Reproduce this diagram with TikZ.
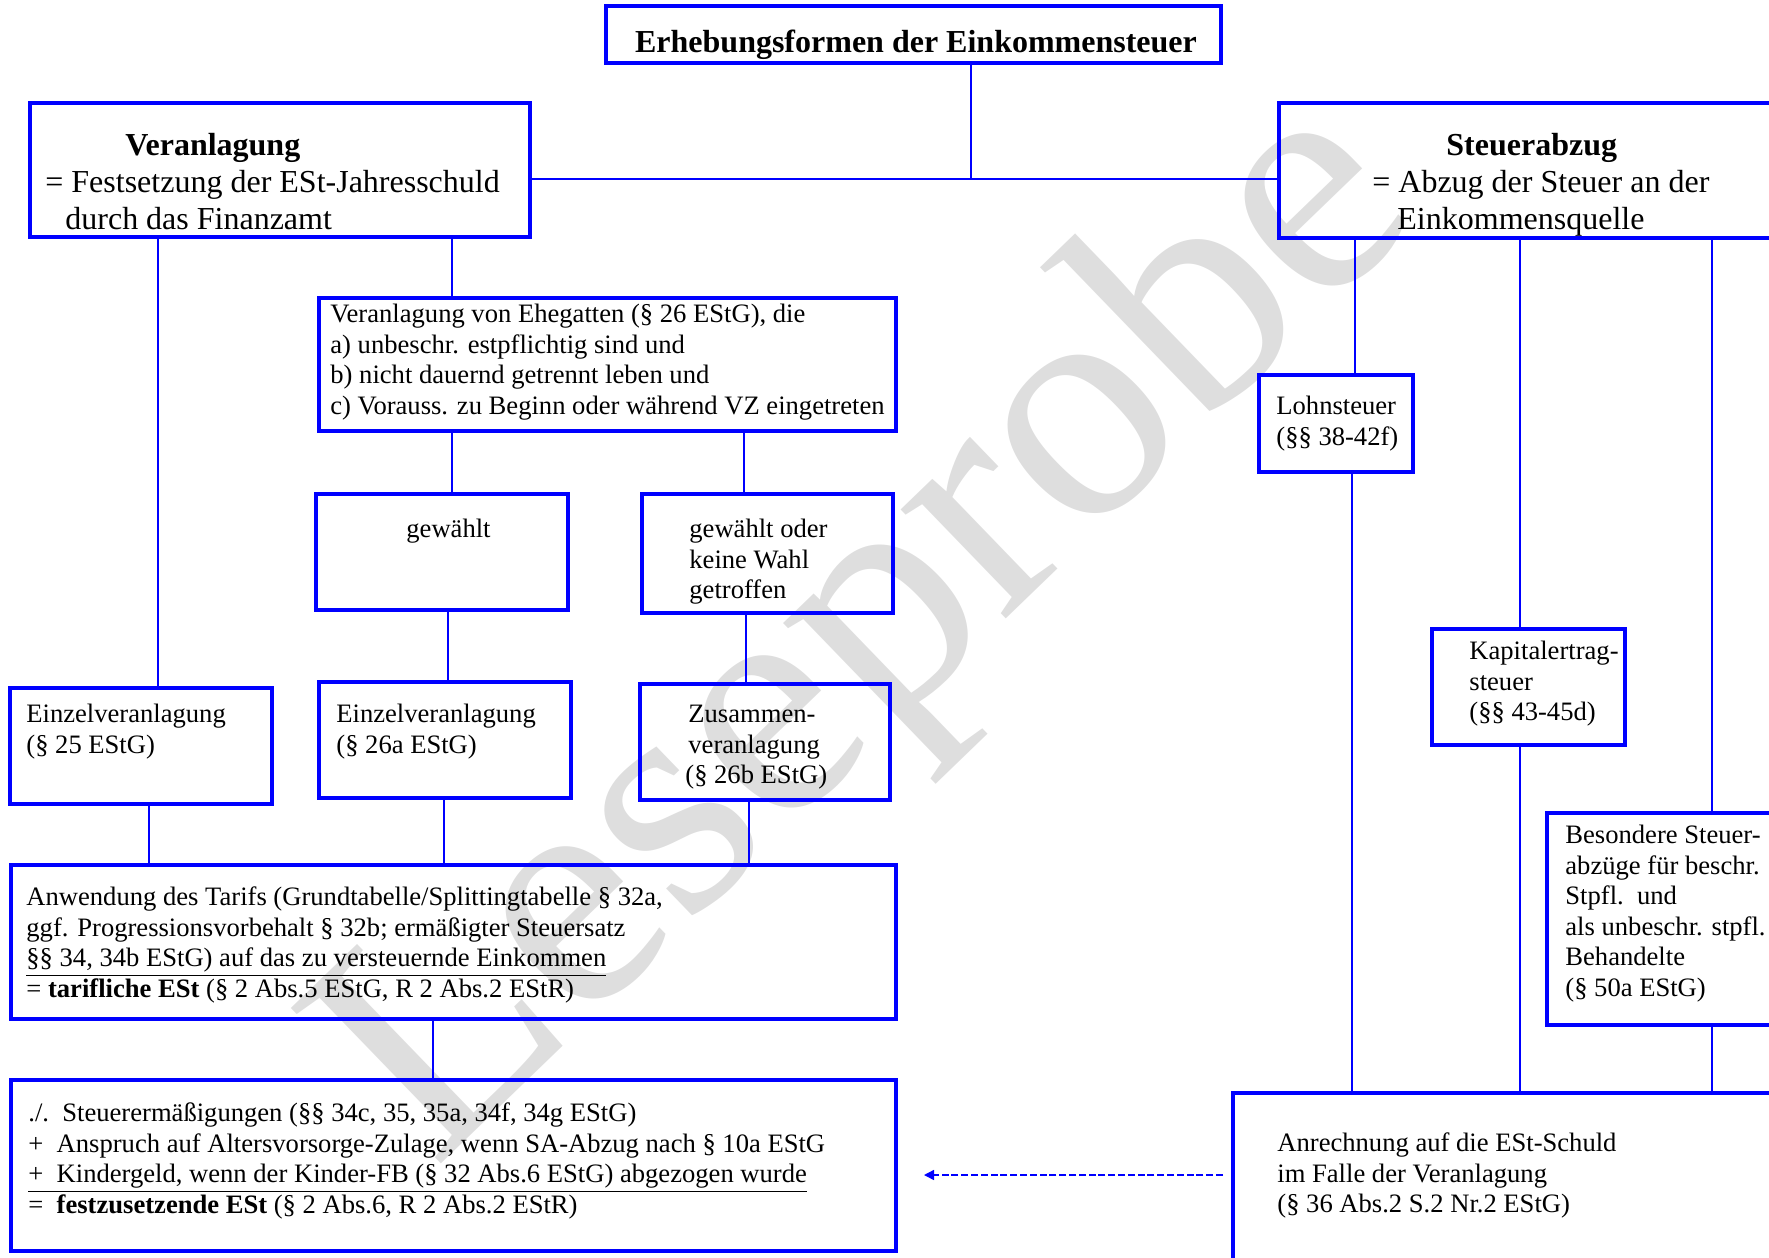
\documentclass[tikz,border=0pt]{standalone}
\usepackage{fontspec}
\setmainfont{Liberation Serif}
\usetikzlibrary{fit,arrows.meta}
\begin{document}
\begin{tikzpicture}[x=0.5pt,y=-0.5pt,
  box/.style={draw=blue, line width=1.6pt, inner sep=0pt, outer sep=0pt},
  conn/.style={draw=blue, line width=1.4pt},
  dasharrow/.style={draw=blue, line width=0.7pt, dash pattern=on 3.5pt off 1.4pt, -{Triangle[length=5pt,width=5pt]}},
  txt/.style={inner sep=0pt, anchor=north west, align=left, font=\fontsize{13.3}{15.3}\selectfont},
  bigtxt/.style={inner sep=0pt, anchor=north west, align=left, font=\fontsize{16}{18.5}\selectfont},
  wmark/.style={inner sep=0pt, text=black!13, font=\fontsize{165}{165}\selectfont}]
\useasboundingbox (0,0) rectangle (1769,1258);
\clip (0,0) rectangle (1769,1258);

% watermark
\node[wmark, rotate=44] (wm) at (874,636) {Leseprobe};

% boxes
\node[box, fit={(606,6) (1221,63)}] (title) {};
\node[box, fit={(30,103) (530,237)}] (veran) {};
\node[box, fit={(1279,103) (1795,238)}] (steu) {};
\node[box, fit={(319,298) (896,431)}] (ehe) {};
\node[box, fit={(316,494) (568,610)}] (gew) {};
\node[box, fit={(642,494) (893,613)}] (gwo) {};
\node[box, fit={(10,688) (272,804)}] (ein25) {};
\node[box, fit={(319,682) (571,798)}] (ein26) {};
\node[box, fit={(640,684) (890,800)}] (zus) {};
\node[box, fit={(11,865) (896,1019)}] (tarif) {};
\node[box, fit={(11,1080) (896,1251)}] (low) {};
\node[box, fit={(1259,375) (1413,472)}] (lohn) {};
\node[box, fit={(1432,629) (1625,745)}] (kap) {};
\node[box, fit={(1547,813) (1795,1025)}] (bes) {};
\node[box, fit={(1233,1093) (1795,1290)}] (anr) {};

% texts
\node[inner sep=0pt, anchor=base, font=\fontsize{16}{18.5}\selectfont\bfseries] (ttitle) at (916,52) {Erhebungsformen der Einkommensteuer};
\node[bigtxt] (tveran) at (45,129.1) {\strut\hspace*{40pt}\textbf{Veranlagung}\\= Festsetzung der ESt-Jahresschuld\\\hspace*{10pt}durch das Finanzamt};
\node[bigtxt] (tsteu) at (1372,129.1) {\strut\hspace*{37pt}\textbf{Steuerabzug}\\= Abzug der Steuer an der\\\hspace*{12.5pt}Einkommensquelle};
\node[txt] (tehe) at (330,300.6) {\strut Veranlagung von Ehegatten (§ 26 EStG), die\\a) unbeschr. estpflichtig sind und\\b) nicht dauernd getrennt leben und\\c) Vorauss. zu Beginn oder während VZ eingetreten};
\node[inner sep=0pt, anchor=base west, font=\fontsize{13.3}{15.3}\selectfont] (tgew) at (406,537) {gewählt};
\node[txt] (tgwo) at (689,515.6) {\strut gewählt oder\\keine Wahl\\getroffen};
\node[txt] (te25) at (26,700.6) {\strut Einzelveranlagung\\(§ 25 EStG)};
\node[txt] (te26) at (336,700.6) {\strut Einzelveranlagung\\(§ 26a EStG)};
\node[txt] (tzus) at (688,700.6) {\strut Zusammen-\\veranlagung\\\hspace*{-1.5pt}(§ 26b EStG)};
\node[txt] (ttarif) at (26,883.6) {\strut Anwendung des Tarifs (Grundtabelle/Splittingtabelle § 32a,\\ggf. Progressionsvorbehalt § 32b; ermäßigter Steuersatz\\\underline{§§ 34, 34b EStG) auf das zu versteuernde Einkommen}\\= \textbf{tarifliche ESt} (§ 2 Abs.5 EStG, R 2 Abs.2 EStR)};
\node[txt] (tlow) at (28,1099.6) {\strut./.\ \ Steuerermäßigungen (§§ 34c, 35, 35a, 34f, 34g EStG)\\+\ \ Anspruch auf Altersvorsorge-Zulage, wenn SA-Abzug nach § 10a EStG\\\underline{+\ \ Kindergeld, wenn der Kinder-FB (§ 32 Abs.6 EStG) abgezogen wurde}\\=\ \ \textbf{festzusetzende ESt} (§ 2 Abs.6, R 2 Abs.2 EStR)};
\node[txt] (tlohn) at (1276,392.6) {\strut Lohnsteuer\\(§§ 38-42f)};
\node[txt] (tkap) at (1469,637.6) {\strut Kapitalertrag-\\steuer\\(§§ 43-45d)};
\node[txt] (tbes) at (1565,821.6) {\strut Besondere Steuer-\\abzüge für beschr.\\Stpfl.\ \ und\\als unbeschr. stpfl.\\Behandelte\\(§ 50a EStG)};
\node[txt] (tanr) at (1277,1129.6) {\strut Anrechnung auf die ESt-Schuld\\im Falle der Veranlagung\\(§ 36 Abs.2 S.2 Nr.2 EStG)};

% connectors
\coordinate (j) at (971,179);
\coordinate (ay) at (0,1175);
\draw[conn] (971,0 |- title.south) -- (j);
\draw[conn] (veran.east |- j) -- (steu.west |- j);
\draw[conn] (158,0 |- veran.south) -- (158,0 |- ein25.north);
\draw[conn] (452,0 |- veran.south) -- (452,0 |- ehe.north);
\draw[conn] (452,0 |- ehe.south) -- (452,0 |- gew.north);
\draw[conn] (744,0 |- ehe.south) -- (744,0 |- gwo.north);
\draw[conn] (448,0 |- gew.south) -- (448,0 |- ein26.north);
\draw[conn] (746,0 |- gwo.south) -- (746,0 |- zus.north);
\draw[conn] (149,0 |- ein25.south) -- (149,0 |- tarif.north);
\draw[conn] (444,0 |- ein26.south) -- (444,0 |- tarif.north);
\draw[conn] (749,0 |- zus.south) -- (749,0 |- tarif.north);
\draw[conn] (433,0 |- tarif.south) -- (433,0 |- low.north);
\draw[conn] (1355,0 |- steu.south) -- (1355,0 |- lohn.north);
\draw[conn] (1520,0 |- steu.south) -- (1520,0 |- kap.north);
\draw[conn] (1712,0 |- steu.south) -- (1712,0 |- bes.north);
\draw[conn] (1352,0 |- lohn.south) -- (1352,0 |- anr.north);
\draw[conn] (1520,0 |- kap.south) -- (1520,0 |- anr.north);
\draw[conn] (1712,0 |- bes.south) -- (1712,0 |- anr.north);
\draw[dasharrow, shorten <=5pt, shorten >=14pt] (anr.west |- ay) -- (low.east |- ay);
\end{tikzpicture}
\end{document}
